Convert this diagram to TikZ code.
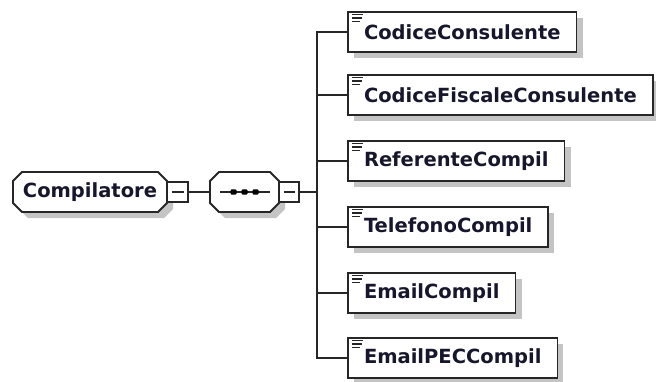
\documentclass[tikz,border=0pt]{standalone}
\usepackage{fontspec}
\setmainfont{DejaVu Sans}
\usetikzlibrary{positioning,shadows,backgrounds}
\definecolor{txtblue}{RGB}{22,22,44}
\definecolor{shade}{RGB}{196,196,196}

% octagon drawn round an (invisible) node
\newcommand{\octagon}[1]{%
	\draw[octline] ([xshift=9pt]#1.north west) -- ([xshift=-9pt]#1.north east) -- ([yshift=-9pt]#1.north east)
		-- ([yshift=9pt]#1.south east) -- ([xshift=-9pt]#1.south east) -- ([xshift=9pt]#1.south west)
		-- ([yshift=9pt]#1.south west) -- ([yshift=-9pt]#1.north west) -- cycle;}

\begin{document}
\begin{tikzpicture}[x=1pt,y=-1pt,
	every node/.style={line width=1.8pt, draw=black!85, fill=white, outer sep=0pt},
	shadowed/.style={drop shadow={shadow xshift=6pt, shadow yshift=-6pt, fill=shade, opacity=1}},
	octo/.style={rectangle, draw=none, fill=none, inner xsep=0pt, inner ysep=0pt, minimum height=40pt, text=txtblue, font=\bfseries\fontsize{19.5}{22}\selectfont},
	octline/.style={line width=1.8pt, draw=black!85, fill=white, shadowed},
	minus/.style={rectangle, minimum width=21pt, minimum height=20pt, inner sep=0pt,
		path picture={\draw[line width=1.6pt] ([xshift=4.5pt]path picture bounding box.west) -- ([xshift=-4.5pt]path picture bounding box.east);}},
	elem/.style={rectangle, minimum height=40pt, inner xsep=16pt, inner ysep=0pt, shadowed, text=txtblue, font=\bfseries\fontsize{19.5}{22}\selectfont,
		path picture={\draw[line width=1.4pt] ([xshift=4pt,yshift=-2.5pt]path picture bounding box.north west) -- ++(11pt,0)
			([xshift=4pt,yshift=-6pt]path picture bounding box.north west) -- ++(10pt,0)
			([xshift=4pt,yshift=-9.5pt]path picture bounding box.north west) -- ++(8pt,0);}},
	wire/.style={line width=1.8pt, draw=black!85}
	]
	\useasboundingbox (0,0) rectangle (656,381);

	\node (compil) [octo, minimum width=154pt, anchor=west] at (13,192) {Compilatore};
		\node (compilm) [minus, right=0pt of compil] {};
		\node (seq) [octo, minimum width=69pt, right=22pt of compilm,
			path picture={\draw[line width=1.6pt] ([xshift=10pt]path picture bounding box.west) -- ([xshift=-9pt]path picture bounding box.east);
				\foreach \d in {-11,0,11} \fill[black, rounded corners=1pt] ([xshift=\d pt]path picture bounding box.center) +(-3pt,-2.6pt) rectangle +(3pt,2.6pt);}] {};
		\node (seqm) [minus, minimum width=20pt, right=0pt of seq] {};

			\node (codcons) [elem, anchor=west] at (348,32) {CodiceConsulente};
			\node (codfisc) [elem, anchor=west] at (348,95) {CodiceFiscaleConsulente};
			\node (refcomp) [elem, anchor=west] at (348,161) {ReferenteCompil};
			\node (telcomp) [elem, anchor=west] at (348,227) {TelefonoCompil};
			\node (emailcomp) [elem, anchor=west] at (348,293) {EmailCompil};
			\node (peccomp) [elem, anchor=west] at (348,358) {EmailPECCompil};

	\begin{scope}[on background layer]
		\octagon{compil}
		\octagon{seq}
	\end{scope}

	\draw [wire] (compilm.east) -- (seq.west);

	\draw [wire] (seqm.east)--++(18,0) |- (codcons.west);
	\draw [wire] (seqm.east)--++(18,0) |- (codfisc.west);
	\draw [wire] (seqm.east)--++(18,0) |- (refcomp.west);
	\draw [wire] (seqm.east)--++(18,0) |- (telcomp.west);
	\draw [wire] (seqm.east)--++(18,0) |- (emailcomp.west);
	\draw [wire] (seqm.east)--++(18,0) |- (peccomp.west);

\end{tikzpicture}
\end{document}
